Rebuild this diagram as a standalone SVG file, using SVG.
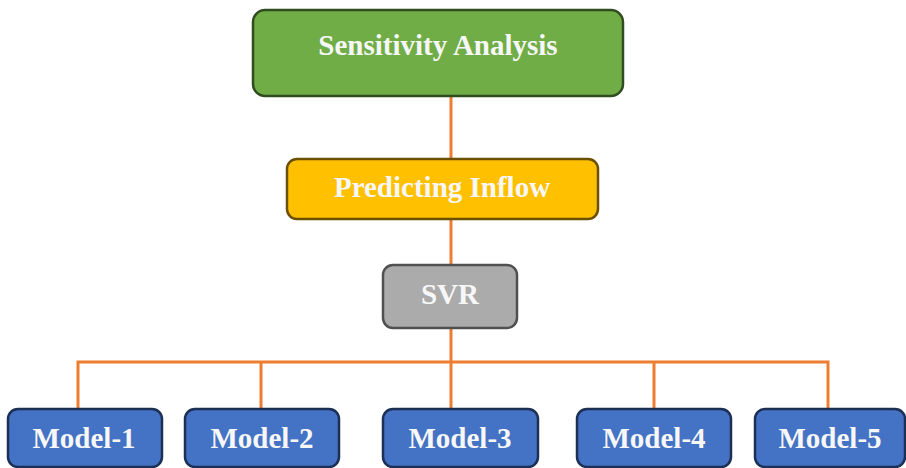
<svg xmlns="http://www.w3.org/2000/svg" width="906" height="468" viewBox="0 0 906 468">
<style>
.box{stroke-width:2.5}
.g{fill:#70AD47;stroke:#314D1F}
.y{fill:#FFC000;stroke:#6B5000}
.s{fill:#ABABAB;stroke:#505050}
.b{fill:#4472C4;stroke:#1C2F55}
.t{font-family:"Liberation Serif","Times New Roman",serif;font-weight:bold;font-size:29px;fill:#F7F7F7;text-anchor:middle}
.c{stroke:#ED7D31;stroke-width:3;fill:none}
</style>
<rect width="906" height="468" fill="#FFFFFF"/>
<g id="connectors">
<line class="c" x1="451" y1="96" x2="451" y2="159"/>
<line class="c" x1="451" y1="219" x2="451" y2="265"/>
<line class="c" x1="451" y1="328" x2="451" y2="409"/>
<polyline class="c" points="78,409 78,362 828,362 828,409"/>
<line class="c" x1="261" y1="362" x2="261" y2="409"/>
<line class="c" x1="654" y1="362" x2="654" y2="409"/>
</g>
<g id="sensitivity">
<rect class="box g" x="253" y="10" width="370" height="86" rx="12"/>
<text class="t" x="438" y="55">Sensitivity Analysis</text>
</g>
<g id="predicting">
<rect class="box y" x="287" y="159" width="311" height="60" rx="10"/>
<text class="t" x="442" y="197">Predicting Inflow</text>
</g>
<g id="svr">
<rect class="box s" x="383" y="265" width="134" height="63" rx="10"/>
<text class="t" x="450" y="304">SVR</text>
</g>
<g id="model1">
<rect class="box b" x="8" y="409" width="154" height="58" rx="10"/>
<text class="t" x="84" y="448">Model-1</text>
</g>
<g id="model2">
<rect class="box b" x="185" y="409" width="154" height="58" rx="10"/>
<text class="t" x="262" y="448">Model-2</text>
</g>
<g id="model3">
<rect class="box b" x="383" y="409" width="155" height="58" rx="10"/>
<text class="t" x="460" y="448">Model-3</text>
</g>
<g id="model4">
<rect class="box b" x="577" y="409" width="154" height="58" rx="10"/>
<text class="t" x="654" y="448">Model-4</text>
</g>
<g id="model5">
<rect class="box b" x="755" y="409" width="150" height="58" rx="10"/>
<text class="t" x="830" y="448">Model-5</text>
</g>
</svg>
